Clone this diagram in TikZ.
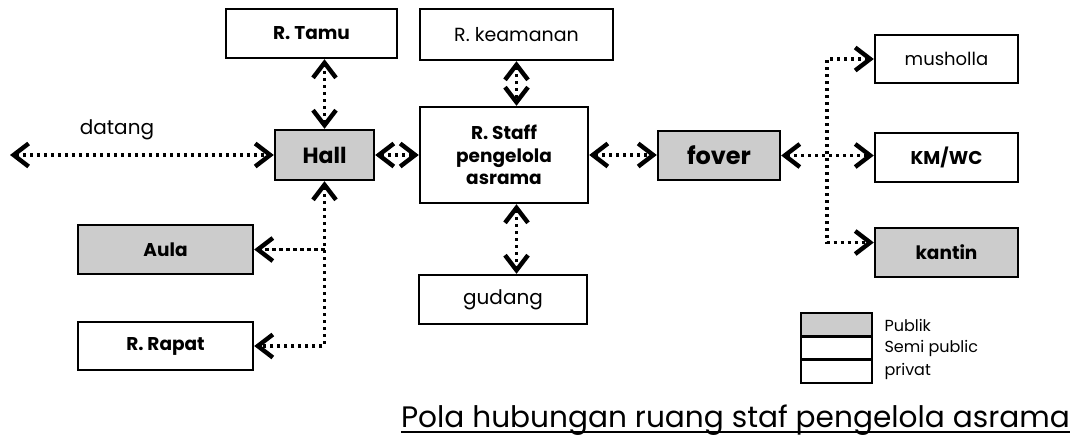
\documentclass[tikz,border=0pt]{standalone}
\usepackage{fontspec}
\setmainfont{Poppins}
\usetikzlibrary{arrows.meta}
\begin{document}
\begin{tikzpicture}[x=1pt,y=-1pt,
  room/.style={draw, line width=2.4pt, inner sep=0pt, align=center},
  pub/.style={room, fill=black!20},
  bl/.style={font=\fontsize{18.5}{22.5}\selectfont\bfseries},
  rg/.style={font=\fontsize{19}{22}\selectfont},
  link/.style={line width=3.2pt, dash pattern=on 3.2pt off 3.8pt},
  >={Straight Barb[length=15pt 0,width=23pt 0,line width=4.4pt 0]}
]
\useasboundingbox (0,0) rectangle (1080,445);

% rooms
\node[room, bl, minimum width=171pt, minimum height=49pt] (tamu)  at (311.5,33.5) {R. Tamu};
\node[room, rg, minimum width=193pt, minimum height=51pt] (keam)  at (516.5,34.5) {R. keamanan};
\node[pub, font=\fontsize{22}{24}\selectfont\bfseries, minimum width=99pt, minimum height=50pt] (hall) at (324.5,155) {Hall};
\node[room, bl, minimum width=168pt, minimum height=96pt] (staff) at (504,155) {R. Staff\\pengelola\\asrama};
\node[pub, font=\fontsize{24}{26}\selectfont\bfseries, minimum width=122pt, minimum height=49pt] (fover) at (719,155.5) {fover};
\node[room, rg, font=\fontsize{18}{22}\selectfont, minimum width=143pt, minimum height=48pt] (mush)  at (946.5,59) {musholla};
\node[room, bl, minimum width=143pt, minimum height=49pt] (kmwc)  at (946.5,157.5) {KM/WC};
\node[pub, bl, minimum width=143pt, minimum height=49pt] (kantin) at (946.5,252.5) {kantin};
\node[pub, bl, minimum width=175pt, minimum height=49pt] (aula)   at (165.5,249.5) {Aula};
\node[room, bl, minimum width=175pt, minimum height=48pt] (rapat) at (165.5,346) {R. Rapat};
\node[room, rg, font=\fontsize{20}{22}\selectfont, minimum width=168pt, minimum height=49pt] (gud)   at (503,299.5) {gudang};

% arrival
\coordinate (entry) at (10,155);
\node[rg, font=\fontsize{20}{22}\selectfont] (dat) at (117,130) {datang};
\draw[link,<->] (entry) -- (hall.west);

% links around the hall
\draw[link,<->] (hall.north) -- (hall.north |- tamu.south);
\draw[link,<->] (hall.east) -- (staff.west);
\draw[link,<->] (hall.south) -- (hall.south |- rapat.east) -- (rapat.east);
\draw[link,->] (hall.south |- aula.east) -- (aula.east);

% links around the staff room
\draw[link,<->] (keam.south) -- (keam.south |- staff.north);
\draw[link,<->] (staff.south -| keam.south) -- (gud.north -| keam.south);
\draw[link,<->] (staff.east) -- (staff.east -| fover.west);

% service rooms behind the foyer
\coordinate (bus) at (827,155);
\coordinate (kin) at ([yshift=10pt]kantin.west);
\draw[link,<->] (fover.east) -- (fover.east -| kmwc.west);
\draw[link,<->] (mush.west) -- (mush.west -| bus) -- (bus |- kin) -- (kin);

% legend
\node[pub, minimum width=71pt, minimum height=23.3pt] (lp) at (836.5,324.7) {};
\node[room, minimum width=71pt, minimum height=23.3pt] (ls) at (836.5,348) {};
\node[room, minimum width=71pt, minimum height=23.3pt] (lv) at (836.5,371.3) {};
\node[anchor=west, font=\fontsize{16}{18}\selectfont] (tp) at (881,325) {Publik};
\node[anchor=west, font=\fontsize{16}{18}\selectfont] (ts) at (881,348) {Semi public};
\node[anchor=west, font=\fontsize{16}{18}\selectfont] (tv) at (881,371) {privat};

% caption
\node[anchor=base east, inner sep=0pt, font=\fontsize{29.6}{32}\selectfont] (title) at (1070,427) {Pola hubungan ruang staf pengelola asrama};
\draw[line width=2.2pt] ([yshift=-5pt]title.base west) -- ([yshift=-5pt]title.base east);
\end{tikzpicture}
\end{document}
